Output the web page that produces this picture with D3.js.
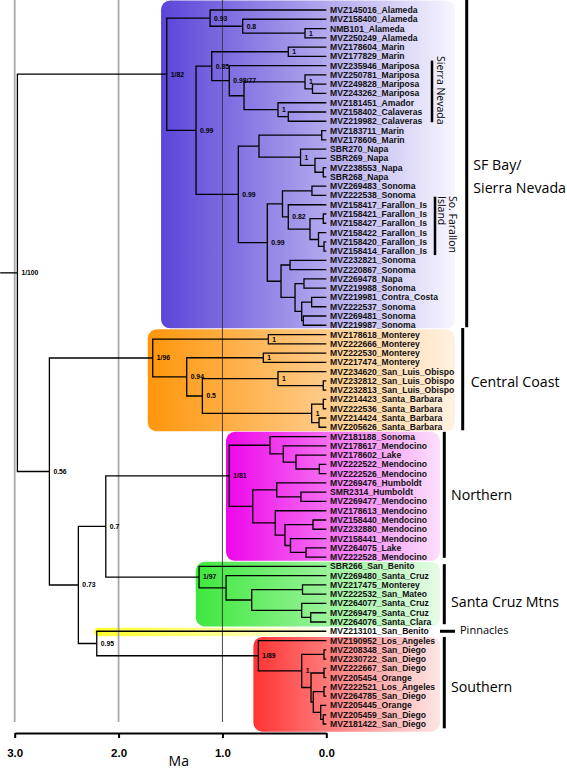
<!DOCTYPE html>
<html><head><meta charset="utf-8">
<script src="https://cdn.jsdelivr.net/npm/d3@7"></script>
<style>body{margin:0;background:#fff} svg{display:block}</style>
</head><body>
<svg id="chart" width="567" height="772"></svg>
<script>
// ---------------- DATA ----------------
const tipNames = [
"MVZ145016_Alameda","MVZ158400_Alameda","NMB101_Alameda","MVZ250249_Alameda",
"MVZ178604_Marin","MVZ177829_Marin","MVZ235946_Mariposa","MVZ250781_Mariposa",
"MVZ249828_Mariposa","MVZ243262_Mariposa","MVZ181451_Amador","MVZ158402_Calaveras",
"MVZ219982_Calaveras","MVZ183711_Marin","MVZ178606_Marin","SBR270_Napa",
"SBR269_Napa","MVZ238553_Napa","SBR268_Napa","MVZ269483_Sonoma",
"MVZ222538_Sonoma","MVZ158417_Farallon_Is","MVZ158421_Farallon_Is","MVZ158427_Farallon_Is",
"MVZ158422_Farallon_Is","MVZ158420_Farallon_Is","MVZ158414_Farallon_Is","MVZ232821_Sonoma",
"MVZ220867_Sonoma","MVZ269478_Napa","MVZ219988_Sonoma","MVZ219981_Contra_Costa",
"MVZ222537_Sonoma","MVZ269481_Sonoma","MVZ219987_Sonoma",
"MVZ178618_Monterey","MVZ222666_Monterey","MVZ222530_Monterey","MVZ217474_Monterey",
"MVZ234620_San_Luis_Obispo","MVZ232812_San_Luis_Obispo","MVZ232813_San_Luis_Obispo",
"MVZ214423_Santa_Barbara","MVZ222536_Santa_Barbara","MVZ214424_Santa_Barbara","MVZ205626_Santa_Barbara",
"MVZ181188_Sonoma","MVZ178617_Mendocino","MVZ178602_Lake","MVZ222522_Mendocino",
"MVZ222526_Mendocino","MVZ269476_Humboldt","SMR2314_Humboldt","MVZ269477_Mendocino",
"MVZ178613_Mendocino","MVZ158440_Mendocino","MVZ232880_Mendocino","MVZ158441_Mendocino",
"MVZ264075_Lake","MVZ222528_Mendocino",
"SBR266_San_Benito","MVZ269480_Santa_Cruz","MVZ217475_Monterey","MVZ222532_San_Mateo",
"MVZ264077_Santa_Cruz","MVZ269479_Santa_Cruz","MVZ264076_Santa_Clara",
"MVZ213101_San_Benito",
"MVZ190952_Los_Angeles","MVZ208348_San_Diego","MVZ230722_San_Diego","MVZ222667_San_Diego",
"MVZ205454_Orange","MVZ222521_Los_Angeles","MVZ264785_San_Diego","MVZ205445_Orange",
"MVZ205459_San_Diego","MVZ181422_San_Diego"
];

// internal node: [age (Ma), support label, ...children]; tip: index into tipNames
const tree =
[2.974, "1/100",
  [1.536, "1/82",
    [1.119, "0.93", 0, [0.805, "0.8", 1, [0.205, "1", 2, 3]]],
    [1.254, "0.99",
      [1.103, "0.85",
        [0.366, "1", 4, 5],
        [0.934, "0.98/77", 6,
          [0.792, "",
            [0.205, "1", 7, [0.133, "", 8, 9]],
            [0.465, "1", 10, [0.366, "", 11, 12]]]]],
      [0.847, "0.99",
        [0.648, "",
          [0.044, "", 13, 14],
          [0.248, "1", 15, [0.109, "", 16, [0.029, "", 17, 18]]]],
        [0.568, "0.99",
          [0.422, "",
            [0.138, "", 19, 20],
            [0.366, "0.82", 21,
              [0.157, "",
                [0.029, "", 22, 23],
                [0.075, "", 24, [0.022, "", 25, 26]]]]],
          [0.436, "",
            [0.349, "", 27, 28],
            [0.301, "",
              [0.215, "", 29, 30],
              [0.237, "",
                [0.141, "", 31, 32],
                [0.221, "", 33, 34]]]]]]]],
  [2.666, "0.56",
    [1.671, "1/96",
      [0.558, "1", 35, 36],
      [1.344, "0.94",
        [0.606, "1", 37, 38],
        [1.193, "0.5",
          [0.465, "1", 39, [0.029, "", 40, 41]],
          [0.141, "1", [0.029, "", 42, 43], [0.070, "", 44, 45]]]]],
    [2.387, "0.73",
      [2.123, "0.7",
        [0.934, "1/81",
          [0.542, "", 46, [0.414, "", 47, [0.292, "", 48, [0.067, "", 49, 50]]]],
          [0.708, "",
            [0.477, "", 51, [0.244, "", 52, 53]],
            [0.491, "", 54,
              [0.398, "",
                [0.128, "", 55, 56],
                [0.345, "", 57, [0.195, "", 58, 59]]]]]],
        [1.225, "1/97", 60,
          [0.965, "", 61,
            [0.718, "",
              [0.229, "", 62, 63],
              [0.237, "", 64, [0.150, "", 65, 66]]]]]],
      [2.210, "0.95", 67,
        [0.654, "1/89", 68,
          [0.237, "1",
            [0.022, "", 69, 70],
            [0.147, "",
              [0.022, "", 71, 72],
              [0.125, "",
                [0.022, "", 73, 74],
                [0.054, "", 75, [0.029, "", 76, 77]]]]]]]]]];

const rootStemAge = 3.14;
const cladeNames = [["SF Bay/","Sierra Nevada"],["Central Coast"],["Northern"],["Santa Cruz Mtns"],["Pinnacles"],["Southern"]];
const cladeFirstTip = [0, 35, 46, 60, 67, 68];
const cladeLastTip  = [34, 45, 59, 66, 67, 77];
const subNames = [["Sierra Nevada"], ["So. Farallon","Island"]];
const subFirstTip = [6, 21];
const subLastTip  = [12, 26];
const axisTicks = [3, 2, 1, 0];
const gridTicks = [3, 2, 1];

// ---------------- STYLE / LAYOUT ----------------
const boxStyle = [
  {c0:"#5a45d8", c1:"#f7f6fe", padL:5.7, padT:9.5, padB:3,   right:455},
  {c0:"#ff960c", c1:"#fff1e2", padL:5,   padT:5.2, padB:4,   right:455},
  {c0:"#ee06ea", c1:"#fbe0fb", padL:3.3, padT:4.7, padB:3.7, right:440},
  {c0:"#3ee83e", c1:"#e6fbe6", padL:3.3, padT:4.5, padB:4.5, right:440},
  {c0:"#ffff2a", c1:"#fffef2", padL:2.4, padT:3.5, padB:5,   right:335},
  {c0:"#ff3333", c1:"#fde6e6", padL:5,   padT:3.6, padB:7.7, right:440}
];
const barStyle = [
  {x:466.7, t:10,  b:2,   lx:473.3, ly:[170,193.3], fs:14.2},
  {x:462.7, t:6.5, b:3,   lx:470.7, ly:[386.7],     fs:14.2},
  {x:444.3, t:4.7, b:0.7, lx:451,   ly:[500],       fs:14.2},
  {x:444.3, t:2.2, b:2.2, lx:451,   ly:[607.3],     fs:14.2},
  {dash:[440,455], lx:460, ly:[633.5], fs:11},
  {x:444.3, t:3.6, b:4.3, lx:451,   ly:[692],       fs:14.2}
];
const subStyle = [
  {bx:432, t:5, b:1, tx:437, ty:56},
  {bx:435, t:8, b:4, tx:448.5, ty:196}
];

const svg = d3.select("#chart");
const x = d3.scaleLinear().domain([3, 0]).range([14.7, 326.3]);
const y = d3.scaleLinear().domain([0, tipNames.length - 1]).range([10, 724]);

const root = d3.hierarchy(tree, d => Array.isArray(d) ? d.slice(2) : null);
root.eachAfter(n => {
  if (n.children) {
    n.age = n.data[0]; n.support = n.data[1];
    n.py = (n.children[0].py + n.children[n.children.length - 1].py) / 2;
  } else {
    n.age = 0; n.tip = n.data; n.py = y(n.data);
  }
  n.px = x(n.age);
});
const leaves = root.leaves();
const leafByTip = new Map(leaves.map(l => [l.tip, l]));
function mrca(a, b) {
  if (a === b) return leafByTip.get(a).parent;
  const lb = leafByTip.get(b);
  let n = leafByTip.get(a).parent;
  while (n && !n.leaves().includes(lb)) n = n.parent;
  return n;
}

// gradients
const defs = svg.append("defs");
boxStyle.forEach((s, i) => {
  const g = defs.append("linearGradient").attr("id", "g" + i).attr("x1", 0).attr("x2", 1).attr("y1", 0).attr("y2", 0);
  g.append("stop").attr("offset", 0).attr("stop-color", s.c0);
  g.append("stop").attr("offset", 1).attr("stop-color", s.c1);
});

// clade boxes
const gBox = svg.append("g");
cladeNames.forEach((nm, i) => {
  const s = boxStyle[i];
  const node = mrca(cladeFirstTip[i], cladeLastTip[i]);
  const x0 = node.px - s.padL;
  const y0 = Math.max(0, y(cladeFirstTip[i]) - s.padT);
  const y1 = y(cladeLastTip[i]) + s.padB;
  gBox.append("rect").attr("x", x0).attr("y", y0).attr("width", s.right - x0).attr("height", y1 - y0)
    .attr("rx", i === 4 ? 4 : 9).attr("fill", `url(#g${i})`);
});

// gridlines
svg.append("g").selectAll("line").data(gridTicks).join("line")
  .attr("x1", d => x(d)).attr("x2", d => x(d)).attr("y1", 0).attr("y2", 722)
  .attr("stroke", d => d === 1 ? "#333" : "#a9a9a9")
  .attr("stroke-width", d => d === 1 ? 0.9 : 1.8);

// branches
const gTree = svg.append("g").attr("fill", "none").attr("stroke", "#000").attr("stroke-width", 1.3);
gTree.selectAll("path").data(root.descendants().filter(d => d.parent)).join("path")
  .attr("d", d => `M${d.parent.px},${d.parent.py}V${d.py}H${d.px}`);
gTree.append("path").attr("d", `M${x(rootStemAge)},${root.py}H${root.px}`);

// support labels
svg.append("g").attr("font-family", "Liberation Sans, Arial, sans-serif").attr("font-weight", "bold")
  .attr("font-size", 6.8).attr("fill", "#000")
  .selectAll("text").data(root.descendants().filter(d => d.children && d.support)).join("text")
  .attr("x", d => d.px + 4).attr("y", d => d.py + 2.4).text(d => d.support);

// tip labels
svg.append("g").attr("font-family", "Liberation Sans, Arial, sans-serif").attr("font-weight", "bold")
  .attr("font-size", 8.6).attr("fill", "#111")
  .selectAll("text").data(leaves).join("text")
  .attr("x", d => d.px + 3.7).attr("y", d => d.py).attr("dy", "0.35em").text(d => tipNames[d.tip]);

// group bars and labels
const gGrp = svg.append("g").attr("font-family", "Open Sans, sans-serif").attr("fill", "#000");
cladeNames.forEach((nm, i) => {
  const b = barStyle[i];
  if (b.dash) {
    gGrp.append("line").attr("x1", b.dash[0]).attr("x2", b.dash[1])
      .attr("y1", y(cladeFirstTip[i])).attr("y2", y(cladeFirstTip[i])).attr("stroke", "#000").attr("stroke-width", 3);
  } else {
    gGrp.append("line").attr("x1", b.x).attr("x2", b.x)
      .attr("y1", Math.max(0, y(cladeFirstTip[i]) - b.t)).attr("y2", y(cladeLastTip[i]) + b.b)
      .attr("stroke", "#000").attr("stroke-width", 3);
  }
  nm.forEach((line, k) => {
    gGrp.append("text").attr("x", b.lx).attr("y", b.ly[k]).attr("font-size", b.fs).text(line);
  });
});
subNames.forEach((nm, i) => {
  const s = subStyle[i];
  gGrp.append("line").attr("x1", s.bx).attr("x2", s.bx)
    .attr("y1", y(subFirstTip[i]) - s.t).attr("y2", y(subLastTip[i]) + s.b)
    .attr("stroke", "#000").attr("stroke-width", 2.5);
  const t = gGrp.append("text").attr("transform", `translate(${s.tx},${s.ty}) rotate(90)`).attr("font-size", 10.5);
  nm.forEach((line, k) => t.append("tspan").attr("x", 0).attr("dy", k ? 11 : 0).text(line));
});

// axis
const axis = svg.append("g").attr("transform", "translate(0,733)")
  .call(d3.axisBottom(x).tickValues(axisTicks).tickFormat(d3.format(".1f")).tickSize(5).tickSizeOuter(0));
axis.select(".domain").attr("stroke-width", 2.2);
axis.selectAll(".tick line").attr("stroke-width", 2);
axis.selectAll(".tick text").attr("y", 16).attr("font-family", "Liberation Sans, Arial, sans-serif")
  .attr("font-weight", "bold").attr("font-size", 11.5).attr("fill", "#000");
svg.append("text").attr("x", x(1.42)).attr("y", 766).attr("text-anchor", "middle")
  .attr("font-family", "Open Sans, sans-serif").attr("font-size", 14).text("Ma");
</script>
</body></html>
